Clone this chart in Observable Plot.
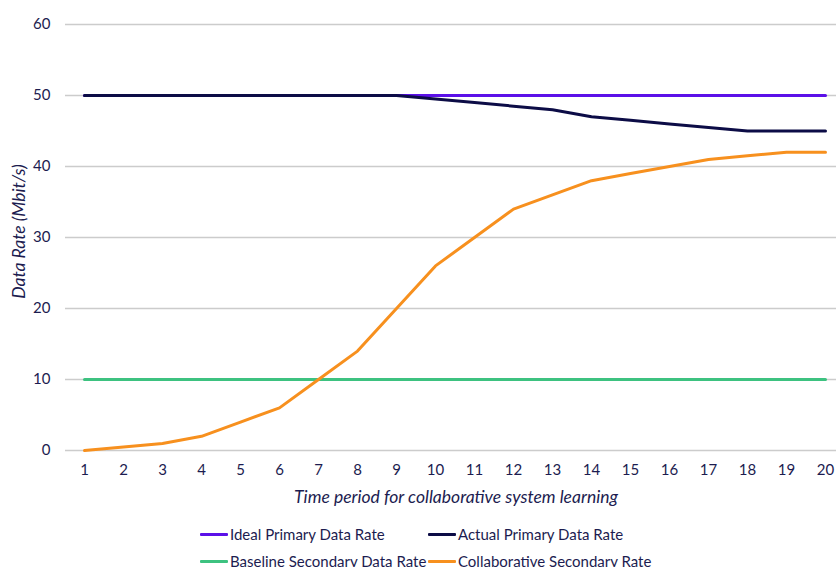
<!DOCTYPE html>
<html>
<head>
<meta charset="utf-8">
<script src="https://cdn.jsdelivr.net/npm/d3@7"></script>
<script src="https://cdn.jsdelivr.net/npm/@observablehq/plot@0.6"></script>
<style>
  html, body { margin: 0; padding: 0; background: #fff; overflow: hidden; }
  body { width: 836px; height: 567px; font-family: Lato, "Open Sans", sans-serif; color: #1c1c50; }
  #legend { position: relative; height: 60px; }
  .item { position: absolute; display: flex; align-items: center; font-size: 15px; white-space: nowrap; }
  .sw { width: 28px; height: 3px; margin-right: 2px; border-radius: 1px; }
</style>
</head>
<body>
<div id="chart"></div>
<div id="legend"></div>
<script>
const periods = [1, 2, 3, 4, 5, 6, 7, 8, 9, 10, 11, 12, 13, 14, 15, 16, 17, 18, 19, 20];
const idealPrimary = [50, 50, 50, 50, 50, 50, 50, 50, 50, 50, 50, 50, 50, 50, 50, 50, 50, 50, 50, 50];
const actualPrimary = [50, 50, 50, 50, 50, 50, 50, 50, 50, 49.5, 49, 48.5, 48, 47, 46.5, 46, 45.5, 45, 45, 45];
const baselineSecondary = [10, 10, 10, 10, 10, 10, 10, 10, 10, 10, 10, 10, 10, 10, 10, 10, 10, 10, 10, 10];
const collaborativeSecondary = [0, 0.5, 1, 2, 4, 6, 10, 14, 20, 26, 30, 34, 36, 38, 39, 40, 41, 41.5, 42, 42];
const yTicks = [0, 10, 20, 30, 40, 50, 60];
const seriesNames = ["Ideal Primary Data Rate", "Actual Primary Data Rate", "Baseline Secondary Data Rate", "Collaborative Secondary Rate"];
const seriesColors = ["#5b10e8", "#0c0c46", "#3dc280", "#f7901e"];
const seriesValues = [idealPrimary, actualPrimary, baselineSecondary, collaborativeSecondary];

const rows = [];
seriesNames.forEach((name, i) => {
  periods.forEach((p, j) => rows.push({series: name, period: p, value: seriesValues[i][j]}));
});

const textColor = "#1c1c50";
const font = "Lato, 'Open Sans', sans-serif";

const chart = Plot.plot({
  width: 836,
  height: 520,
  marginLeft: 65,
  marginRight: 0,
  marginTop: 24,
  marginBottom: 70,
  style: {fontFamily: font, fontSize: "15px", color: textColor, background: "#fff"},
  x: {domain: [1, 20], range: [84, 825]},
  y: {domain: [0, 60], range: [450, 24]},
  color: {domain: seriesNames, range: seriesColors},
  marks: [
    Plot.ruleY(yTicks, {stroke: "#cccccc", strokeWidth: 1.5, strokeOpacity: 1}),
    Plot.axisY(yTicks, {tickSize: 0, tickPadding: 15, label: null, fontSize: 15, fill: textColor}),
    Plot.axisX(periods, {tickSize: 0, tickPadding: 14, label: null, fontSize: 15, fill: textColor}),
    Plot.line(rows, {x: "period", y: "value", z: "series", stroke: "series", strokeWidth: 3, strokeLinejoin: "round", strokeLinecap: "round"}),
    Plot.text(["Data Rate (Mbit/s)"], {frameAnchor: "left", textAnchor: "middle", lineAnchor: "middle", rotate: -90, dx: -46, dy: -6, fontSize: 17.5, fontStyle: "italic", fill: textColor, fontFamily: font}),
    Plot.text(["Time period for collaborative system learning"], {frameAnchor: "bottom", textAnchor: "middle", lineAnchor: "middle", dx: 5, dy: 47, fontSize: 17.5, fontStyle: "italic", fill: textColor, fontFamily: font})
  ]
});
document.getElementById("chart").appendChild(chart);

const legend = document.getElementById("legend");
const pos = [[200, 15], [428, 15], [200, 42], [428, 42]];
seriesNames.forEach((name, i) => {
  const it = document.createElement("div");
  it.className = "item";
  it.style.left = pos[i][0] + "px";
  it.style.top = (pos[i][1] - 10) + "px";
  const sw = document.createElement("span");
  sw.className = "sw";
  sw.style.background = seriesColors[i];
  const tx = document.createElement("span");
  tx.textContent = name;
  it.appendChild(sw);
  it.appendChild(tx);
  legend.appendChild(it);
});
</script>
</body>
</html>
